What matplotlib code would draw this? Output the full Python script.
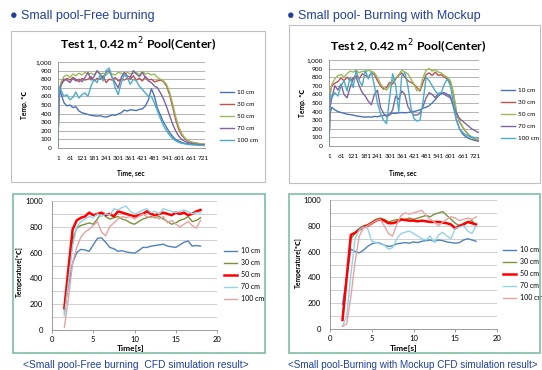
import matplotlib
matplotlib.use("Agg")
import matplotlib.pyplot as plt
import matplotlib.ticker as mticker
from matplotlib.patches import Rectangle

W, H = 542, 370

labels = ["10 cm", "30 cm", "50 cm", "70 cm", "100 cm"]
colors_test = ["#4A72B8", "#C0504D", "#9BBB59", "#7F63A1", "#4BACC6"]
colors_cfd = ["#4F81BD", "#77933C", "#FF0000", "#93D3E6", "#E3A3A3"]
widths_cfd = [1.0, 1.0, 1.8, 1.0, 1.0]

x_ticks_test = [1, 61, 121, 181, 241, 301, 361, 421, 481, 541, 601, 661, 721]

# ---- Test 1 (measured), time in sec
t1 = [1, 6] + list(range(15, 721, 15)) + [731]
test1_10 = [30, 700, 640, 530, 490, 500, 470, 480, 430, 410, 400, 390, 380, 375, 370, 375, 365, 360, 370, 385,
            380, 395, 410, 440, 430, 445, 440, 435, 450, 455, 490, 560, 690, 600, 460, 380, 300, 240, 180, 135,
            100, 80, 65, 55, 50, 45, 42, 40, 38, 35, 34]
test1_30 = [50, 650, 740, 780, 810, 790, 820, 800, 770, 810, 790, 800, 830, 780, 810, 800, 840, 760, 800, 790,
            820, 780, 800, 790, 810, 800, 840, 790, 810, 780, 830, 790, 800, 770, 780, 790, 770, 720, 620, 480,
            330, 220, 150, 110, 85, 70, 60, 55, 50, 45, 42]
test1_50 = [60, 600, 760, 830, 850, 820, 860, 840, 870, 850, 880, 860, 870, 850, 890, 860, 870, 850, 880, 860,
            850, 880, 870, 850, 880, 860, 870, 880, 850, 890, 860, 870, 850, 860, 820, 800, 780, 740, 650, 520,
            370, 250, 170, 120, 90, 72, 62, 55, 50, 46, 44]
test1_70 = [40, 550, 720, 800, 790, 760, 810, 780, 800, 770, 820, 880, 790, 830, 900, 860, 800, 880, 900, 820,
            760, 700, 820, 880, 840, 820, 900, 860, 830, 880, 820, 780, 760, 720, 700, 640, 570, 480, 380, 280,
            200, 140, 100, 80, 65, 55, 48, 44, 40, 37, 35]
test1_100 = [20, 720, 680, 600, 620, 560, 590, 650, 580, 620, 640, 600, 720, 800, 760, 850, 780, 900, 930, 820,
             700, 620, 760, 850, 820, 740, 800, 780, 720, 680, 640, 600, 600, 520, 430, 340, 260, 200, 150, 110,
             85, 65, 55, 48, 42, 38, 35, 33, 31, 30, 29]

# ---- Test 2 (measured), time in sec
t2 = [1, 6] + list(range(15, 736, 15)) + [741]
test2_10 = [20, 380, 450, 420, 400, 390, 380, 370, 365, 360, 350, 345, 340, 335, 340, 335, 345, 340, 350, 355,
            360, 370, 380, 380, 385, 390, 385, 390, 395, 400, 410, 420, 440, 450, 470, 500, 540, 580, 610, 620,
            600, 580, 450, 300, 200, 140, 110, 90, 75, 65, 58, 55]
test2_30 = [30, 620, 700, 730, 750, 790, 760, 800, 760, 790, 820, 780, 840, 820, 800, 850, 830, 760, 700, 660,
            680, 740, 720, 780, 820, 850, 800, 760, 740, 720, 680, 640, 740, 830, 850, 820, 860, 820, 830, 800,
            780, 740, 600, 380, 280, 220, 170, 130, 100, 80, 68, 65]
test2_50 = [40, 580, 720, 780, 820, 830, 800, 840, 870, 860, 880, 850, 870, 860, 880, 870, 850, 800, 720, 680,
            650, 700, 760, 790, 830, 880, 860, 840, 780, 720, 640, 660, 800, 880, 900, 870, 890, 860, 850, 820,
            800, 760, 620, 400, 290, 225, 175, 135, 105, 85, 72, 68]
test2_70 = [20, 450, 560, 700, 650, 720, 600, 560, 680, 780, 800, 700, 620, 580, 520, 480, 600, 650, 450, 380,
            340, 360, 420, 580, 540, 640, 600, 460, 400, 360, 360, 380, 460, 560, 620, 600, 560, 610, 620, 600,
            580, 560, 480, 380, 320, 290, 260, 230, 200, 180, 160, 155]
test2_100 = [10, 600, 560, 620, 580, 700, 760, 640, 800, 680, 880, 760, 700, 880, 780, 860, 700, 500, 380, 300,
             260, 560, 840, 700, 400, 820, 850, 700, 450, 320, 290, 300, 520, 800, 760, 700, 640, 600, 620, 720,
             780, 700, 500, 300, 200, 160, 130, 115, 105, 98, 92, 90]

# ---- CFD results, time in s
t_cfd_free = [1.5, 2.0, 2.5, 3.0, 3.5, 4.0, 4.5, 5.0, 5.5, 6.0, 6.5, 7.0, 7.5, 8.0, 8.5, 9.0, 9.5,
              10.0, 10.5, 11.0, 11.5, 12.0, 12.5, 13.0, 13.5, 14.0, 14.5, 15.0, 15.5, 16.0, 16.5, 17.0, 17.5, 18.0]
cfd_free_10 = [150, 350, 520, 600, 625, 620, 610, 660, 710, 715, 680, 640, 630, 610, 615, 605, 600,
               595, 615, 640, 640, 650, 655, 660, 665, 650, 645, 640, 660, 680, 690, 650, 655, 650]
cfd_free_30 = [130, 420, 700, 790, 810, 820, 830, 820, 860, 910, 880, 860, 870, 880, 860, 850, 830,
               820, 840, 860, 870, 880, 870, 880, 860, 840, 820, 830, 850, 860, 880, 840, 850, 870]
cfd_free_50 = [170, 480, 780, 850, 870, 880, 910, 890, 900, 910, 890, 900, 880, 920, 910, 900, 890,
               880, 890, 900, 920, 900, 890, 900, 910, 900, 890, 910, 900, 910, 890, 900, 920, 930]
cfd_free_70 = [110, 380, 650, 800, 840, 860, 880, 870, 900, 880, 900, 890, 940, 930, 950, 960, 920,
               900, 910, 930, 940, 910, 920, 900, 940, 930, 920, 910, 920, 930, 920, 900, 910, 910]
cfd_free_100 = [20, 250, 520, 640, 720, 760, 780, 810, 840, 760, 730, 800, 830, 860, 880, 870, 880,
                860, 880, 900, 880, 870, 880, 860, 880, 830, 850, 820, 800, 820, 840, 810, 790, 850]

t_cfd_mock = [1.5, 2.0, 2.5, 3.0, 3.5, 4.0, 4.5, 5.0, 5.5, 6.0, 6.5, 7.0, 7.5, 8.0, 8.5, 9.0, 9.5,
              10.0, 10.5, 11.0, 11.5, 12.0, 12.5, 13.0, 13.5, 14.0, 14.5, 15.0, 15.5, 16.0, 16.5, 17.0, 17.5]
cfd_mock_10 = [190, 400, 620, 600, 590, 610, 640, 660, 670, 665, 650, 640, 645, 660, 665, 670, 665,
               675, 670, 680, 685, 690, 680, 690, 685, 675, 670, 665, 670, 690, 700, 690, 680]
cfd_mock_30 = [90, 400, 700, 740, 780, 800, 810, 830, 850, 860, 850, 830, 840, 850, 840, 850, 860,
               850, 860, 870, 880, 870, 890, 900, 910, 880, 850, 820, 800, 820, 830, 840, 800]
cfd_mock_50 = [70, 400, 730, 745, 770, 790, 800, 820, 840, 850, 840, 820, 820, 830, 850, 845, 840,
               840, 835, 840, 835, 830, 830, 830, 825, 820, 810, 780, 800, 810, 830, 820, 810]
cfd_mock_70 = [20, 100, 420, 700, 770, 790, 780, 680, 670, 660, 650, 620, 630, 700, 740, 750, 760,
               740, 720, 700, 690, 720, 670, 730, 750, 720, 700, 780, 790, 800, 760, 740, 800]
cfd_mock_100 = [20, 40, 250, 520, 720, 780, 800, 820, 840, 850, 800, 740, 720, 810, 880, 900, 890,
                900, 910, 920, 880, 850, 830, 800, 830, 850, 870, 860, 840, 850, 860, 850, 870]

FONT = ["Lato", "DejaVu Sans"]
SANS = ["Liberation Sans", "DejaVu Sans"]
BLUE = "#21409A"


def fx(px):
    return px / W


def fy(py):
    return 1 - py / H


def add_box(fig, x0, y0, x1, y1, color, lw):
    fig.add_artist(Rectangle((fx(x0), fy(y1)), (x1 - x0) / W, (y1 - y0) / H,
                             transform=fig.transFigure, fill=False, edgecolor=color, linewidth=lw))


def make_axes(fig, x0, y0, x1, y1):
    return fig.add_axes([fx(x0), fy(y1), (x1 - x0) / W, (y1 - y0) / H])


def plot_test(fig, ax, t, series, xmax, legend_xy):
    for vals, c, lab in zip(series, colors_test, labels):
        ax.plot(t, vals, color=c, lw=1.0, label=lab)
    ax.set_xlim(1, xmax)
    ax.set_ylim(0, 1000)
    ax.set_yticks(range(0, 1001, 100))
    ax.yaxis.set_major_formatter(mticker.StrMethodFormatter("{x:,.0f}"))
    ax.set_xticks(x_ticks_test)
    ax.tick_params(axis="y", length=0, labelsize=4.6, pad=4.5)
    ax.tick_params(axis="x", length=0, labelsize=4.6, pad=6)
    for lab in ax.get_xticklabels() + ax.get_yticklabels():
        lab.set_family(FONT)
    ax.grid(axis="y", color="#A6A6A6", lw=0.6)
    ax.set_axisbelow(True)
    for s in ["top", "right"]:
        ax.spines[s].set_visible(False)
    for s in ["left", "bottom"]:
        ax.spines[s].set_color("#8C8C8C")
        ax.spines[s].set_linewidth(0.6)
    ax.legend(loc="upper left", bbox_to_anchor=(fx(legend_xy[0]), fy(legend_xy[1])),
              bbox_transform=fig.transFigure, frameon=False, prop={"family": FONT, "size": 4.6},
              handlelength=2.2, handletextpad=0.5, labelspacing=1.02, borderpad=0, borderaxespad=0)


def plot_cfd(fig, ax, t, series, legend_xy):
    for vals, c, lw, lab in zip(series, colors_cfd, widths_cfd, labels):
        ax.plot(t, vals, color=c, lw=lw, label=lab)
    ax.set_xlim(0, 20)
    ax.set_ylim(0, 1000)
    ax.set_xticks([0, 5, 10, 15, 20])
    ax.set_yticks([0, 200, 400, 600, 800, 1000])
    ax.set_yticks(range(100, 1000, 200), minor=True)
    ax.tick_params(axis="y", which="both", length=0, labelsize=5.5, pad=6.5)
    ax.tick_params(axis="x", length=2, width=0.6, color="#8C8C8C", labelsize=5.5, pad=2.5)
    for lab in ax.get_xticklabels() + ax.get_yticklabels():
        lab.set_family(FONT)
    ax.grid(axis="y", which="both", color="#C8C8C8", lw=0.6)
    ax.set_axisbelow(True)
    for s in ["top", "right"]:
        ax.spines[s].set_visible(False)
    for s in ["left", "bottom"]:
        ax.spines[s].set_color("#8C8C8C")
        ax.spines[s].set_linewidth(0.6)
    ax.legend(loc="upper left", bbox_to_anchor=(fx(legend_xy[0]), fy(legend_xy[1])),
              bbox_transform=fig.transFigure, frameon=False, prop={"family": FONT, "size": 5},
              handlelength=1.9, handletextpad=0.5, labelspacing=0.72, borderpad=0, borderaxespad=0)


fig = plt.figure(figsize=(W / 100, H / 100), dpi=100)

# headings
fig.text(fx(10), fy(16), "\u25cf Small pool-Free burning", color=BLUE, fontsize=9,
         family=SANS, va="center", ha="left")
fig.text(fx(287), fy(16), "\u25cf Small pool- Burning with Mockup", color=BLUE, fontsize=9,
         family=SANS, va="center", ha="left")

# frames
add_box(fig, 11, 31, 265, 182, "#BFBFBF", 0.8)
add_box(fig, 289, 25, 540, 183, "#BFBFBF", 0.8)
add_box(fig, 13, 194, 265, 353, "#7DBFA2", 1.2)
add_box(fig, 289, 194, 540, 353, "#7DBFA2", 1.2)

# Test 1
ax1 = make_axes(fig, 58, 62, 205, 148)
plot_test(fig, ax1, t1, [test1_10, test1_30, test1_50, test1_70, test1_100], 731, (220, 90))
fig.text(fx(138), fy(45), "Test 1, 0.42 m$^2$ Pool(Center)", fontsize=8.8, fontweight="bold",
         family=FONT, ha="center", va="center")
fig.text(fx(25), fy(105), "Temp. \u2103", fontsize=4.8, fontweight="bold", family=FONT,
         rotation=90, ha="center", va="center")
fig.text(fx(131), fy(173), "Time, sec", fontsize=4.8, fontweight="bold", family=FONT,
         ha="center", va="center")

# Test 2
ax2 = make_axes(fig, 329, 60, 479, 146)
plot_test(fig, ax2, t2, [test2_10, test2_30, test2_50, test2_70, test2_100], 741, (501, 88))
fig.text(fx(408), fy(47), "Test 2, 0.42 m$^2$ Pool(Center)", fontsize=8.8, fontweight="bold",
         family=FONT, ha="center", va="center")
fig.text(fx(302), fy(103), "Temp. \u2103", fontsize=4.8, fontweight="bold", family=FONT,
         rotation=90, ha="center", va="center")
fig.text(fx(403), fy(173), "Time, sec", fontsize=4.8, fontweight="bold", family=FONT,
         ha="center", va="center")

# CFD free burning
ax3 = make_axes(fig, 52, 201, 217, 330)
plot_cfd(fig, ax3, t_cfd_free, [cfd_free_10, cfd_free_30, cfd_free_50, cfd_free_70, cfd_free_100], (224, 247))
fig.text(fx(19), fy(272), "Temperature[\u2103]", fontsize=4.8, fontweight="bold", family=FONT,
         rotation=90, ha="center", va="center")
fig.text(fx(131), fy(348.5), "Time[s]", fontsize=6, fontweight="bold", family=FONT,
         ha="center", va="center")
fig.text(fx(136), fy(365), "<Small pool-Free burning  CFD simulation result>", color=BLUE,
         fontsize=7.4, family=SANS, ha="center", va="center")

# CFD with mockup
ax4 = make_axes(fig, 330, 200, 497, 329)
plot_cfd(fig, ax4, t_cfd_mock, [cfd_mock_10, cfd_mock_30, cfd_mock_50, cfd_mock_70, cfd_mock_100], (503, 246))
fig.text(fx(298), fy(263), "Temperature[\u2103]", fontsize=4.8, fontweight="bold", family=FONT,
         rotation=90, ha="center", va="center")
fig.text(fx(404), fy(348.5), "Time[s]", fontsize=6, fontweight="bold", family=FONT,
         ha="center", va="center")
fig.text(fx(288), fy(365), "<Small pool-Burning with Mockup CFD simulation result>", color=BLUE,
         fontsize=7.1, family=SANS, ha="left", va="center")

fig.savefig("out.png", dpi=100)
